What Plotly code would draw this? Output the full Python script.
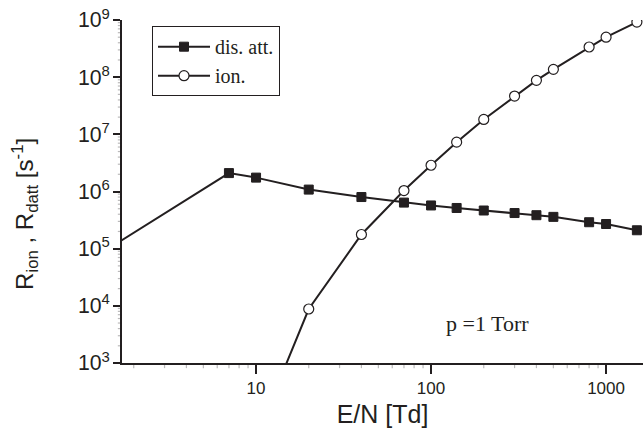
import plotly.graph_objects as go

# Data
datt_x = [1, 7, 10, 20, 40, 70, 100, 140, 200, 300, 400, 500, 800, 1000, 1500]
datt_y = [5.0e4, 2.1e6, 1.75e6, 1.08e6, 8.0e5, 6.4e5, 5.7e5, 5.15e5, 4.65e5, 4.2e5, 3.85e5, 3.6e5, 2.9e5, 2.7e5, 2.1e5]
ion_x = [10, 20, 40, 70, 100, 140, 200, 300, 400, 500, 800, 1000, 1500]
ion_y = [5.0e1, 8.8e3, 1.77e5, 1.04e6, 2.88e6, 7.3e6, 1.82e7, 4.67e7, 8.8e7, 1.37e8, 3.37e8, 5.0e8, 9.2e8]

ink = "#231f20"
XR = [0.234, 3.211]
YR = [3, 9]

# minor tick positions (2..9 in each decade inside the axis ranges)
x_minor = [m * 10 ** e for e in range(0, 4) for m in range(2, 10)
           if 10 ** XR[0] <= m * 10 ** e <= 10 ** XR[1]]
y_minor = [m * 10 ** e for e in range(3, 9) for m in range(2, 10)]

fig = go.Figure()
fig.add_trace(go.Scatter(
    x=datt_x, y=datt_y, mode="lines+markers", name="dis. att.",
    line=dict(color=ink, width=2),
    marker=dict(symbol="square", size=9, color=ink, line=dict(color=ink, width=1)),
))
fig.add_trace(go.Scatter(
    x=ion_x, y=ion_y, mode="lines+markers", name="ion.",
    line=dict(color=ink, width=2),
    marker=dict(symbol="circle", size=10, color="white", line=dict(color=ink, width=1.2)),
))

# minor ticks drawn as short outward strokes at the tick positions
for v in x_minor:
    fig.add_shape(type="line", xref="x", yref="paper", x0=v, x1=v, y0=0, y1=-0.015,
                  line=dict(color=ink, width=1.2), layer="above")
for v in y_minor:
    fig.add_shape(type="line", xref="paper", yref="y", x0=0, x1=-0.008, y0=v, y1=v,
                  line=dict(color=ink, width=1.2), layer="above")

fig.add_annotation(
    text="p =1 Torr", xref="paper", yref="paper", x=0.702, y=0.114,
    xanchor="center", yanchor="middle",
    showarrow=False, font=dict(family="Liberation Serif", size=22, color=ink),
)
fig.add_annotation(
    text="R<sub>ion</sub> , R<sub>datt</sub> [s<sup>-1</sup>]",
    xref="paper", yref="paper", x=-0.186, y=0.435, textangle=-90,
    xanchor="center", yanchor="middle",
    showarrow=False, font=dict(family="Liberation Sans", size=24, color=ink),
)

fig.update_layout(
    template="simple_white",
    width=643, height=438,
    margin=dict(l=122, r=0, t=20, b=75),
    paper_bgcolor="white", plot_bgcolor="white",
    showlegend=True,
    legend=dict(
        x=0.0576, y=0.982, xanchor="left", yanchor="top",
        bordercolor=ink, borderwidth=1, bgcolor="white",
        font=dict(family="Liberation Serif", size=20, color=ink),
        itemwidth=52, tracegroupgap=0,
    ),
    xaxis=dict(
        type="log", range=XR, tickmode="linear", tick0=0, dtick=1,
        exponentformat="none",
        ticks="outside", ticklen=9, tickwidth=1.5, tickcolor=ink,
        showline=True, linecolor=ink, linewidth=1.5,
        showgrid=False, zeroline=False,
        tickfont=dict(family="Liberation Sans", size=17, color=ink),
        title=dict(text="E/N [Td]", font=dict(family="Liberation Sans", size=25, color=ink), standoff=8),
    ),
    yaxis=dict(
        type="log", range=YR, tickmode="linear", tick0=0, dtick=1,
        exponentformat="power",
        ticks="outside", ticklen=7, tickwidth=1.5, tickcolor=ink,
        showline=True, linecolor=ink, linewidth=1.5,
        showgrid=False, zeroline=False,
        tickfont=dict(family="Liberation Sans", size=17, color=ink),
    ),
)

fig.write_html("out.html")
